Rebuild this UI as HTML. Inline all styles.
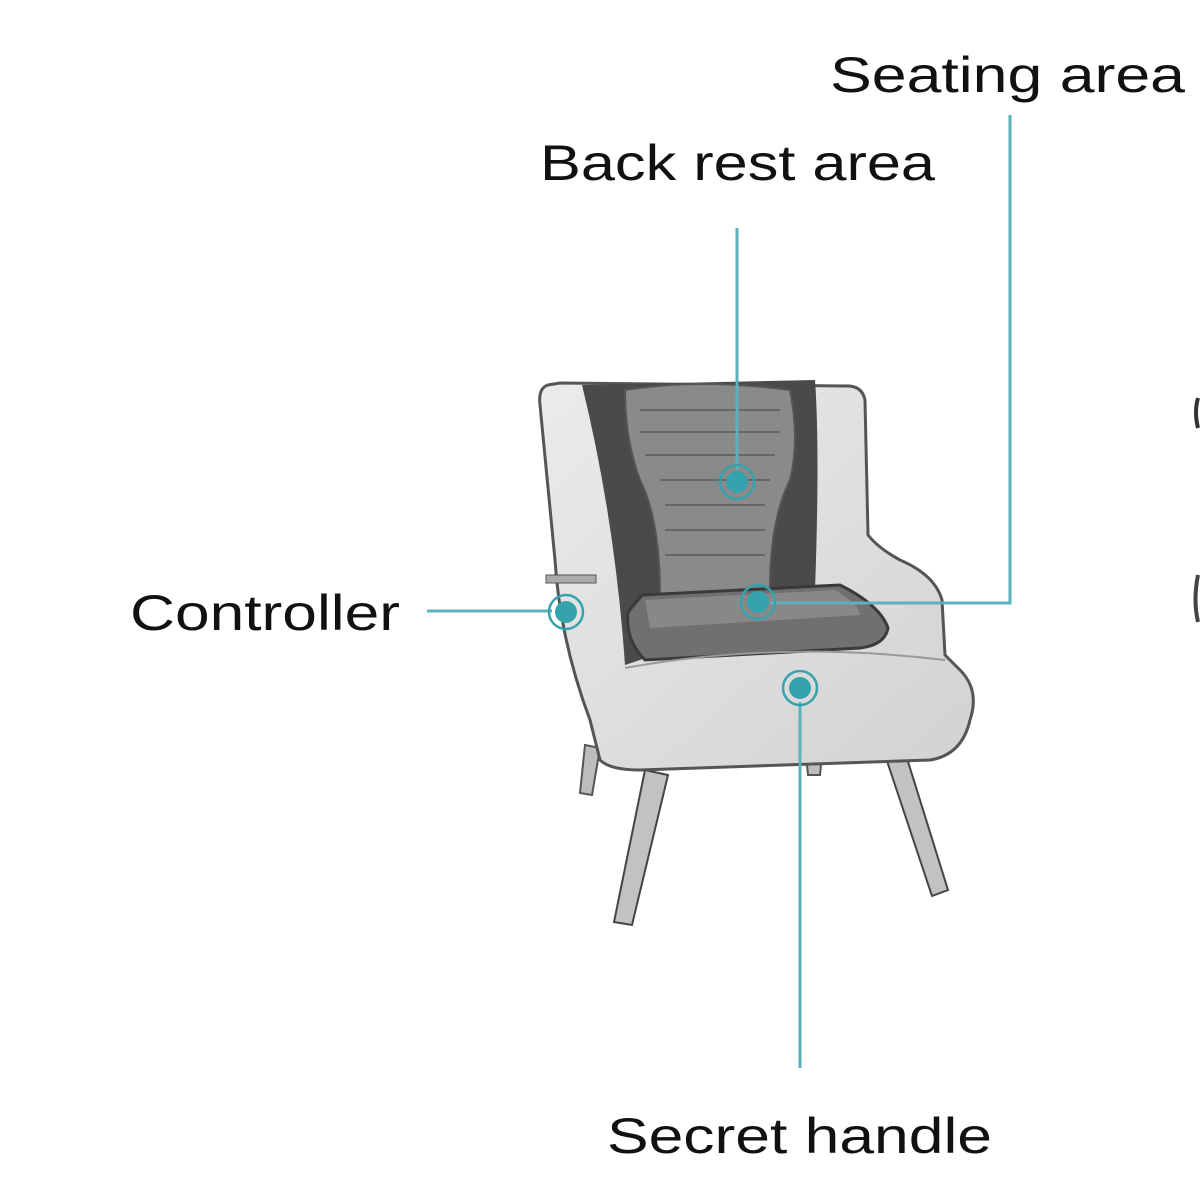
<!DOCTYPE html>
<html><head><style>
html,body{margin:0;padding:0;background:#fff;width:1200px;height:1200px;overflow:hidden}
svg{display:block}
text{font-family:"Liberation Sans",sans-serif;fill:#111;font-size:50px}
</style></head><body>
<svg width="1200" height="1200" viewBox="0 0 1200 1200">
<defs>
<linearGradient id="body" x1="0" y1="0" x2="1" y2="1">
<stop offset="0" stop-color="#ebebeb"/><stop offset="1" stop-color="#d2d2d2"/></linearGradient>
</defs>
<path d="M585,745 L600,748 L592,795 L580,793 Z" fill="#bdbdbd" stroke="#555" stroke-width="2"/>
<path d="M806,755 L822,755 L820,775 L808,775 Z" fill="#bdbdbd" stroke="#555" stroke-width="2"/>
<path d="M645,770 L668,775 L632,925 L614,922 Z" fill="#c2c2c2" stroke="#444" stroke-width="2"/>
<path d="M885,755 L905,752 L948,890 L932,896 Z" fill="#c2c2c2" stroke="#444" stroke-width="2"/>
<path d="M548,385 Q538,388 540,405 L555,560 Q560,640 590,720 L600,760 Q610,770 640,770 L930,760 Q962,755 970,720 Q980,690 960,670 L945,655 L942,600 Q935,575 900,560 Q878,548 868,535 L865,400 Q862,385 845,386 L560,383 Z" fill="url(#body)" stroke="#555" stroke-width="3"/>
<path d="M582,385 L815,380 Q820,450 815,590 L805,595 L640,660 L625,665 Q615,520 582,385 Z" fill="#4a4a4a"/>
<path d="M625,390 Q700,378 790,390 Q800,440 790,480 Q770,520 770,590 L660,595 Q660,520 640,480 Q625,440 625,390 Z" fill="#8a8a8a" stroke="#555" stroke-width="2"/>
<g stroke="#666" stroke-width="2">
<line x1="640" y1="410" x2="780" y2="410"/><line x1="640" y1="432" x2="780" y2="432"/>
<line x1="645" y1="455" x2="775" y2="455"/><line x1="660" y1="480" x2="770" y2="480"/>
<line x1="665" y1="505" x2="765" y2="505"/><line x1="665" y1="530" x2="765" y2="530"/>
<line x1="665" y1="555" x2="765" y2="555"/>
</g>
<path d="M642,595 L840,585 Q880,605 888,628 Q885,645 860,648 L645,660 Q625,640 628,612 Z" fill="#707070" stroke="#3a3a3a" stroke-width="3"/>
<path d="M645,600 L835,590 Q860,605 860,615 L650,628 Z" fill="#888"/>
<path d="M625,668 Q780,640 945,660" stroke="#999" stroke-width="2" fill="none"/>
<rect x="546" y="575" width="50" height="8" fill="#aaa" stroke="#555"/>
<path d="M1198,398 Q1194,412 1198,428" stroke="#333" stroke-width="4" fill="none"/>
<path d="M1198,575 Q1193,600 1198,622" stroke="#444" stroke-width="4" fill="none"/>
<g stroke="#5ab2ba" stroke-width="3" fill="none">
<line x1="737" y1="228" x2="737" y2="470"/>
<polyline points="770,603 1010,603 1010,115"/>
<line x1="427" y1="611" x2="552" y2="611"/>
<line x1="800" y1="702" x2="800" y2="1068"/>
</g>
<g fill="#35a3ad">
<circle cx="737" cy="482" r="11"/><circle cx="758" cy="602" r="11"/>
<circle cx="566" cy="612" r="11"/><circle cx="800" cy="688" r="11"/>
</g>
<g fill="none" stroke="#35a3ad" stroke-width="2.5">
<circle cx="737" cy="482" r="17"/><circle cx="758" cy="602" r="17"/>
<circle cx="566" cy="612" r="17"/><circle cx="800" cy="688" r="17"/>
</g>
<text x="830" y="92" textLength="355" lengthAdjust="spacingAndGlyphs">Seating area</text>
<text x="540" y="180" textLength="395" lengthAdjust="spacingAndGlyphs">Back rest area</text>
<text x="130" y="630" textLength="270" lengthAdjust="spacingAndGlyphs">Controller</text>
<text x="607" y="1153" textLength="385" lengthAdjust="spacingAndGlyphs">Secret handle</text>
</svg>
</body></html>
